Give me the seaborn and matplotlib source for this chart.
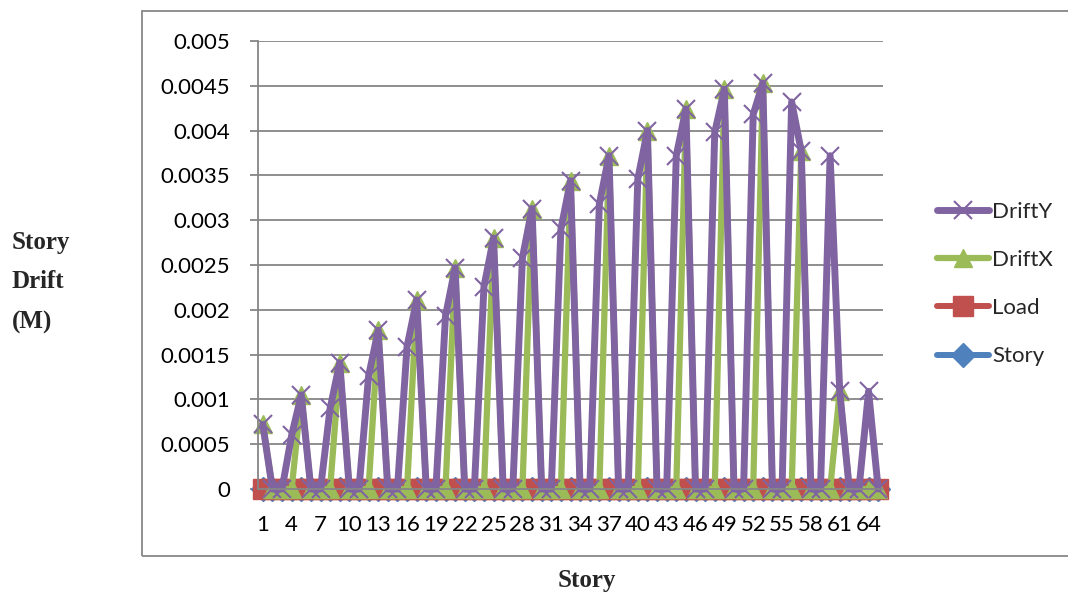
import matplotlib
matplotlib.use("Agg")
import matplotlib.pyplot as plt
import seaborn as sns
import pandas as pd
from matplotlib.patches import Rectangle

# ---------------- data ----------------
stories = list(range(1, 66))

drift_x = [
    0.00072, 0, 0, 0,
    0.00105, 0, 0, 0,
    0.00141, 0, 0, 0,
    0.00177, 0, 0, 0,
    0.00211, 0, 0, 0,
    0.00247, 0, 0, 0,
    0.00280, 0, 0, 0,
    0.00313, 0, 0, 0,
    0.00344, 0, 0, 0,
    0.00372, 0, 0, 0,
    0.00400, 0, 0, 0,
    0.00424, 0, 0, 0,
    0.00446, 0, 0, 0,
    0.00453, 0, 0, 0,
    0.00377, 0, 0, 0,
    0.00109, 0, 0, 0,
    0,
]

drift_y = [
    0.00072, 0, 0, 0.00060,
    0.00105, 0, 0, 0.00090,
    0.00141, 0, 0, 0.00126,
    0.00177, 0, 0, 0.00159,
    0.00211, 0, 0, 0.00193,
    0.00247, 0, 0, 0.00226,
    0.00280, 0, 0, 0.00258,
    0.00313, 0, 0, 0.00290,
    0.00344, 0, 0, 0.00318,
    0.00372, 0, 0, 0.00346,
    0.00400, 0, 0, 0.00372,
    0.00424, 0, 0, 0.00398,
    0.00446, 0, 0, 0.00418,
    0.00453, 0, 0, 0.00432,
    0.00377, 0, 0, 0.00372,
    0.00109, 0, 0, 0.00109,
    0,
]

load = [
    0, 0, 0, 0, 0, 0, 0, 0, 0, 0, 0, 0, 0,
    0, 0, 0, 0, 0, 0, 0, 0, 0, 0, 0, 0, 0,
    0, 0, 0, 0, 0, 0, 0, 0, 0, 0, 0, 0, 0,
    0, 0, 0, 0, 0, 0, 0, 0, 0, 0, 0, 0, 0,
    0, 0, 0, 0, 0, 0, 0, 0, 0, 0, 0, 0, 0,
]

story_series = [
    0, 0, 0, 0, 0, 0, 0, 0, 0, 0, 0, 0, 0,
    0, 0, 0, 0, 0, 0, 0, 0, 0, 0, 0, 0, 0,
    0, 0, 0, 0, 0, 0, 0, 0, 0, 0, 0, 0, 0,
    0, 0, 0, 0, 0, 0, 0, 0, 0, 0, 0, 0, 0,
    0, 0, 0, 0, 0, 0, 0, 0, 0, 0, 0, 0, 0,
]

x_tick_values = [1, 4, 7, 10, 13, 16, 19, 22, 25, 28, 31, 34, 37, 40, 43, 46, 49, 52, 55, 58, 61, 64]
y_tick_values = [0, 0.0005, 0.001, 0.0015, 0.002, 0.0025, 0.003, 0.0035, 0.004, 0.0045, 0.005]
y_tick_labels = ["0", "0.0005", "0.001", "0.0015", "0.002", "0.0025", "0.003",
                 "0.0035", "0.004", "0.0045", "0.005"]

df = pd.DataFrame({
    "Story": stories,
    "StorySeries": story_series,
    "Load": load,
    "DriftX": drift_x,
    "DriftY": drift_y,
})

# ---------------- style ----------------
sns.set_style("white")
plt.rcParams["font.family"] = ["Lato", "DejaVu Sans"]

W, H = 1068, 594
fig = plt.figure(figsize=(W / 100, H / 100), dpi=100)

# outer chart border
fig.patches.append(Rectangle((142 / W, 1 - 556 / H), 1.2, (556 - 11) / H,
                             transform=fig.transFigure, fill=False,
                             edgecolor="#878787", linewidth=1.3, zorder=0))

left, right, top, bottom = 258, 883, 41, 489
ax = fig.add_axes([left / W, 1 - bottom / H, (right - left) / W, (bottom - top) / H])
ax.set_facecolor("none")

grid_col = "#868686"

series = [
    ("StorySeries", "Story", "#4F81BD", "D", 12, 4.3, 1.0),
    ("Load", "Load", "#C0504D", "s", 14, 4.3, 1.0),
    ("DriftX", "DriftX", "#9BBB59", "^", 13, 4.5, 1.0),
    ("DriftY", "DriftY", "#8064A2", "x", 13, 5.0, 1.5),
]
handles = {}
for col, lab, colr, mk, ms, lw, mew in series:
    sns.lineplot(data=df, x="Story", y=col, ax=ax, color=colr, marker=mk,
                 markersize=ms, linewidth=lw, markeredgewidth=mew,
                 markeredgecolor=colr, label=lab, clip_on=False, legend=False)
    handles[lab] = ax.lines[-1]

ax.set_xlim(0.5, 65.5)
ax.set_ylim(0, 0.005)
ax.set_xticks(x_tick_values)
ax.set_xticklabels([str(v) for v in x_tick_values])
ax.set_yticks(y_tick_values)
ax.set_yticklabels(y_tick_labels)
ax.set_xlabel("")
ax.set_ylabel("")

ax.yaxis.grid(True, color=grid_col, linewidth=1.3)
ax.xaxis.grid(False)
ax.set_axisbelow(True)
for s in ["top", "right"]:
    ax.spines[s].set_visible(False)
for s in ["left", "bottom"]:
    ax.spines[s].set_color(grid_col)
    ax.spines[s].set_linewidth(1.3)

ax.tick_params(axis="y", length=6, width=1.3, color=grid_col, pad=14,
               labelsize=16, labelcolor="black", left=True)
ax.tick_params(axis="x", length=0, pad=19, labelsize=16, labelcolor="black")

# legend
order = ["DriftY", "DriftX", "Load", "Story"]
leg = fig.legend([handles[k] for k in order], order, loc="center left",
                 bbox_to_anchor=(926 / W, 1 - 284 / H), frameon=False,
                 fontsize=16, handlelength=2.35, handletextpad=0.12,
                 labelspacing=1.27, borderpad=0)

# axis titles
serif = ["Liberation Serif", "DejaVu Serif"]
for txt, yb in [("Story", 249), ("Drift", 288), ("(M)", 329)]:
    fig.text(12 / W, 1 - yb / H, txt, ha="left", va="baseline",
             fontsize=18, fontweight="bold", family=serif)
fig.text(587 / W, 1 - 587 / H, "Story", ha="center", va="baseline",
         fontsize=18, fontweight="bold", family=serif)

fig.savefig("out.png", dpi=100)
